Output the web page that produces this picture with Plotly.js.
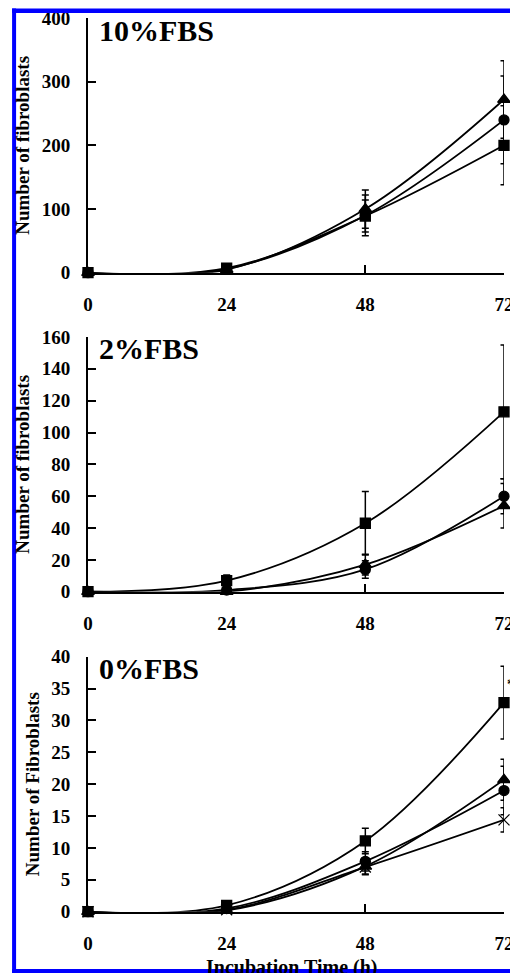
<!DOCTYPE html>
<html>
<head>
<meta charset="utf-8">
<script src="https://cdn.plot.ly/plotly-3.0.1.min.js"></script>
<style>
  html, body { margin: 0; padding: 0; overflow: hidden; background: #fff; }
  #chart { width: 560px; height: 973px; }
</style>
</head>
<body>
<div id="chart"></div>
<script>
// ---- data ----
const times = [0, 24, 48, 72];
const tickLabelsX = ['0', '24', '48', '72'];

// 10% FBS
const sq10 = [0, 7, 89, 200];
const sq10Err = [0, 3, 25, 62];
const ci10 = [0, 6, 90, 240];
const ci10Err = [0, 3, 32, 69];
const tr10 = [0, 5, 100, 272];
const tr10Err = [0, 3, 30, 61];

// 2% FBS
const sq2 = [0, 7, 43, 113];
const sq2Err = [0, 3.5, 20, 42];
const ci2 = [0, 1, 14, 60];
const ci2Err = [0, 1, 5.5, 11];
const tr2 = [0, 0, 17, 54];
const tr2Err = [0, 1, 6.5, 14];

// 0% FBS
const sq0 = [0, 1, 11.1, 32.8];
const sq0Err = [0, 0.5, 2, 5.7];
const tr0 = [0, 0.2, 7.1, 20.7];
const tr0Err = [0, 0.3, 1.3, 3.2];
const ci0 = [0, 0.5, 7.9, 19.0];
const ci0Err = [0, 0.3, 1.5, 3.8];
const cr0 = [0, 0.3, 7.0, 14.4];
const cr0Err = [0, 0.3, 1.1, 1.9];

const panelLabels = ['10%FBS', '2%FBS', '0%FBS'];
const yTitles = ['Number of fibroblasts', 'Number of fibroblasts', 'Number of Fibroblasts'];
const xTitle = 'Incubation Time (h)';

// ---- layout geometry (pixels) ----
const H = 973, W = 560, L = 88, PR = 504.5;
const PW = PR - L;
const px2x = px => (px - L) / PW;
const px2y = py => 1 - py / H;
const panels = [
  {top: 18, bottom: 272.7, range: [0, 400], dtick: 100},
  {top: 337, bottom: 591.7, range: [0, 160], dtick: 20},
  {top: 656.7, bottom: 911.7, range: [0, 40], dtick: 5}
];

const FONT = 'Liberation Serif, Times New Roman, serif';

function tr(x, y, err, panel, sym, size, extra) {
  const sfx = panel === 0 ? '' : String(panel + 1);
  const t = {
    x: x, y: y, type: 'scatter', mode: 'lines+markers',
    xaxis: 'x' + sfx, yaxis: 'y' + sfx,
    line: {color: 'black', width: 1.8, shape: 'spline', smoothing: 1},
    marker: {symbol: sym, size: size, color: 'black', line: {color: 'black', width: 1.3}},
    error_y: {type: 'data', array: err, visible: true, color: 'black', thickness: 1.5, width: 3.5},
    cliponaxis: false, showlegend: false, hoverinfo: 'skip'
  };
  return Object.assign(t, extra || {});
}

const data = [
  tr(times, sq10, sq10Err, 0, 'square', 10),
  tr(times, ci10, ci10Err, 0, 'circle', 10),
  tr(times, tr10, tr10Err, 0, 'triangle-up', 11),
  tr(times, sq2, sq2Err, 1, 'square', 10),
  tr(times, ci2, ci2Err, 1, 'circle', 10),
  tr(times, tr2, tr2Err, 1, 'triangle-up', 11),
  tr(times, sq0, sq0Err, 2, 'square', 10),
  tr(times, tr0, tr0Err, 2, 'triangle-up', 11),
  tr(times, ci0, ci0Err, 2, 'circle', 10),
  tr(times, cr0, cr0Err, 2, 'x-thin-open', 11)
];

const layout = {
  width: W, height: H,
  margin: {l: L, r: W - PR, t: 0, b: 0, pad: 0},
  paper_bgcolor: 'white', plot_bgcolor: 'white',
  font: {family: FONT, color: 'black', size: 19, weight: 'bold'},
  showlegend: false,
  annotations: [],
  shapes: []
};

panels.forEach((p, i) => {
  const sfx = i === 0 ? '' : String(i + 1);
  layout['xaxis' + sfx] = {
    anchor: 'y' + sfx, domain: [0, 1], range: [0, 72],
    tickmode: 'array', tickvals: times, ticktext: tickLabelsX,
    showline: true, linecolor: 'black', linewidth: 2,
    ticks: 'inside', ticklen: 8, tickwidth: 2, tickcolor: 'black',
    showgrid: false, zeroline: false, ticklabelstandoff: 13,
    tickfont: {family: FONT, size: 19, weight: 'bold', color: 'black'},
    title: {text: ''}
  };
  layout['yaxis' + sfx] = {
    anchor: 'x' + sfx, domain: [px2y(p.bottom), px2y(p.top)], range: p.range,
    dtick: p.dtick, tick0: 0,
    showline: true, linecolor: 'black', linewidth: 2,
    ticks: 'inside', ticklen: 8, tickwidth: 2, tickcolor: 'black',
    showgrid: false, zeroline: false, ticklabelstandoff: 12,
    tickfont: {family: FONT, size: 19, weight: 'bold', color: 'black'},
    title: {text: yTitles[i], standoff: 7, font: {family: FONT, size: 19, weight: 'bold', color: 'black'}}
  };
  layout.annotations.push({
    xref: 'paper', yref: 'paper', x: px2x(97), y: px2y(p.top + 12),
    xanchor: 'left', yanchor: 'middle', showarrow: false,
    text: panelLabels[i], font: {family: FONT, size: 30, weight: 'bold', color: 'black'}
  });
});

// x-axis title of the bottom panel (partly hidden by the frame, as in the source)
layout.annotations.push({
  xref: 'paper', yref: 'paper', x: px2x(292), y: px2y(967),
  xanchor: 'center', yanchor: 'middle', showarrow: false,
  text: xTitle, font: {family: FONT, size: 20, weight: 'bold', color: 'black'}
});

// significance mark next to the 72 h point of 0% FBS (mostly cut off)
layout.annotations.push({
  xref: 'x3', yref: 'y3', x: 72, y: 35.6, xanchor: 'left', yanchor: 'middle',
  xshift: 1, showarrow: false, text: '*',
  font: {family: FONT, size: 14, weight: 'bold', color: 'black'}
});

// blue frame around the figure crop
const BLUE = '#0000ff';
layout.shapes.push(
  {type: 'line', xref: 'paper', yref: 'paper', x0: px2x(14), x1: px2x(14), y0: px2y(8.5), y1: px2y(973), line: {color: BLUE, width: 4}, layer: 'above'},
  {type: 'line', xref: 'paper', yref: 'paper', x0: px2x(12), x1: px2x(W), y0: px2y(10.8), y1: px2y(10.8), line: {color: BLUE, width: 4.5}, layer: 'above'},
  {type: 'line', xref: 'paper', yref: 'paper', x0: px2x(12), x1: px2x(W), y0: px2y(971), y1: px2y(971), line: {color: BLUE, width: 4}, layer: 'above'}
);

Plotly.newPlot('chart', data, layout, {staticPlot: true, displayModeBar: false});
</script>
</body>
</html>
